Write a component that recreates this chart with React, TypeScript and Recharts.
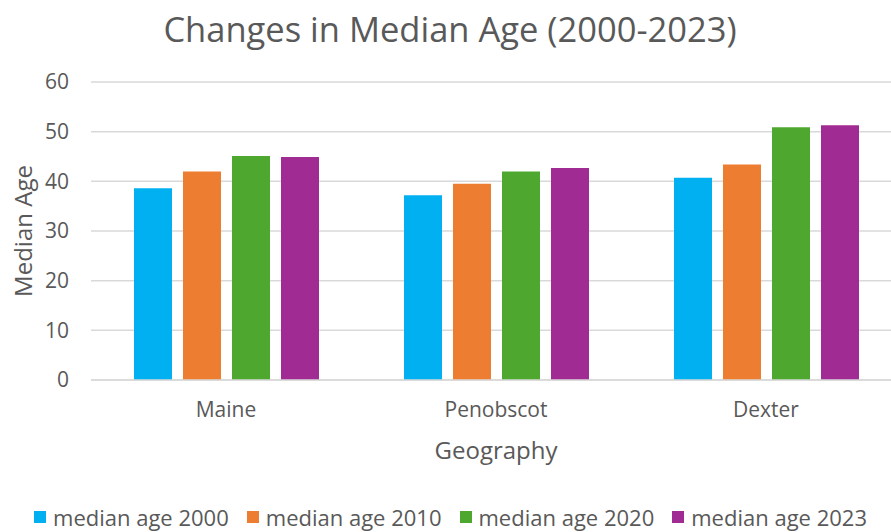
import { BarChart, Bar, XAxis, YAxis, CartesianGrid, Legend } from 'recharts';

const places = ['Maine', 'Penobscot', 'Dexter'];
const age2000 = [38.6, 37.2, 40.7];
const age2010 = [42.0, 39.5, 43.4];
const age2020 = [45.1, 42.0, 50.9];
const age2023 = [44.9, 42.7, 51.3];
const yTicks = [0, 10, 20, 30, 40, 50, 60];

const series = [
  { key: 'median age 2000', values: age2000, color: '#00B0F0' },
  { key: 'median age 2010', values: age2010, color: '#ED7D31' },
  { key: 'median age 2020', values: age2020, color: '#4EA72E' },
  { key: 'median age 2023', values: age2023, color: '#A02B93' },
];

const data = places.map((name, i) => {
  const row: Record<string, string | number> = { name };
  series.forEach((s) => { row[s.key] = s.values[i]; });
  return row;
});

const font = '"Open Sans", sans-serif';
const grey = '#595959';

const renderLegend = () => (
  <div style={{ display: 'flex', justifyContent: 'center', gap: 18, fontFamily: font, fontSize: 22, lineHeight: '26px', color: grey, marginLeft: 0 }}>
    {series.map((s) => (
      <div key={s.key} style={{ display: 'flex', alignItems: 'center' }}>
        <span style={{ width: 12, height: 12, background: s.color, display: 'inline-block', marginRight: 7 }} />
        {s.key}
      </div>
    ))}
  </div>
);

const YLabel = (props: any) => {
  const vb = props.viewBox || {};
  const cy = (vb.y || 0) + (vb.height || 0) / 2;
  return (
    <text x={22} y={cy} transform={`rotate(-90, 22, ${cy})`} textAnchor="middle" dominantBaseline="central"
      fill={grey} fontSize={24} fontFamily={font}>
      Median Age
    </text>
  );
};

const App = () => {
  return (
    <div style={{ position: 'absolute', left: 0, top: 0, width: 891, height: 532, overflow: 'hidden', background: '#fff' }}>
      <div style={{ position: 'absolute', top: 5, left: 0, width: 900, textAlign: 'center', fontFamily: font, fontSize: 34.5, color: grey }}>
        Changes in Median Age (2000-2023)
      </div>
      <BarChart width={901} height={532} data={data} margin={{ top: 82, right: 0, left: 0, bottom: 0 }} barSize={38} barGap={11}>
        <CartesianGrid vertical={false} stroke="#d9d9d9" strokeWidth={1.5} />
        <XAxis
          dataKey="name"
          tickLine={false}
          axisLine={{ stroke: '#d9d9d9', strokeWidth: 1.5 }}
          tick={{ fill: grey, fontSize: 21, fontFamily: font }}
          tickMargin={16}
          height={126}
          label={{ value: 'Geography', position: 'insideTop', offset: 62, fill: grey, fontSize: 24, fontFamily: font }}
        />
        <YAxis
          domain={[0, 60]}
          ticks={yTicks}
          tickLine={false}
          axisLine={false}
          width={91}
          tickMargin={16}
          tick={{ fill: grey, fontSize: 21, fontFamily: font }}
          label={<YLabel />}
        />
        <Legend verticalAlign="bottom" content={renderLegend} wrapperStyle={{ top: 504 }} />
        {series.map((s) => (
          <Bar key={s.key} dataKey={s.key} fill={s.color} isAnimationActive={false} />
        ))}
      </BarChart>
    </div>
  );
};

export default App;
